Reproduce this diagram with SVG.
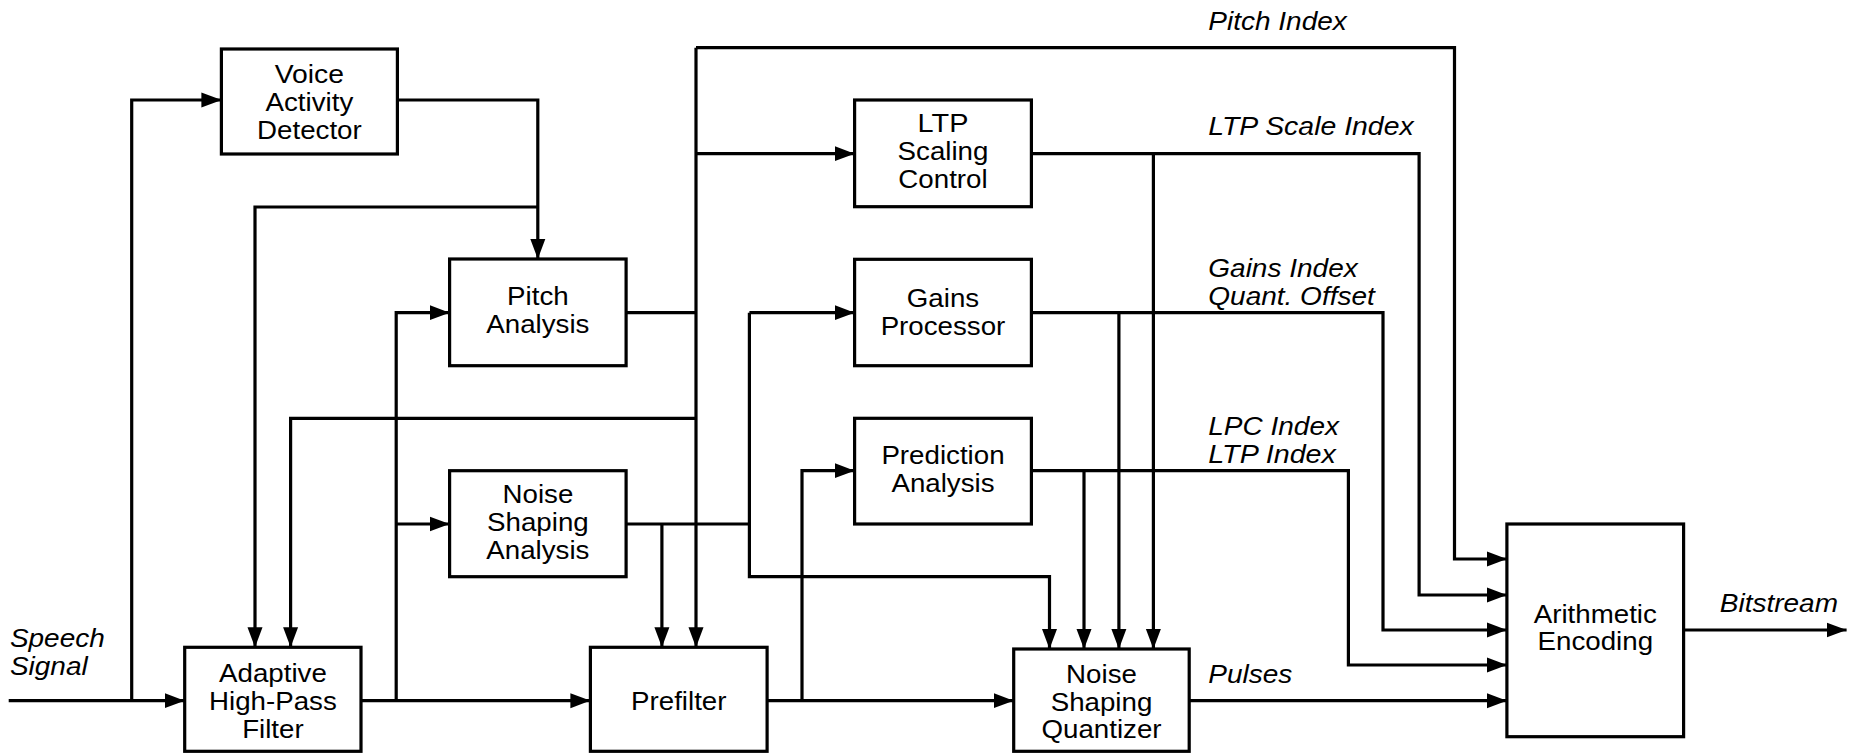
<svg xmlns="http://www.w3.org/2000/svg" width="1852" height="754" viewBox="0 0 1852 754">
<style>
.box{fill:#fff;stroke:#000;stroke-width:3.2}
.nt{font-family:"Liberation Sans",Arial,sans-serif;font-size:25px;text-anchor:middle;fill:#000}
.lb{font-family:"Liberation Sans",Arial,sans-serif;font-size:26px;font-style:italic;fill:#000}
.c{fill:none;stroke:#000;stroke-width:3.2}
.a{marker-end:url(#ah)}
</style>
<defs>
<marker id="ah" markerUnits="userSpaceOnUse" viewBox="0 0 20 16" refX="20" refY="8" markerWidth="20" markerHeight="16" orient="auto">
<path d="M0,0.5 L20,8 L0,15.5 z" fill="#000"/>
</marker>
</defs>
<rect width="1852" height="754" fill="#fff"/>
<g id="vad"><rect class="box" x="221.4" y="49" width="176" height="105"/>
<text class="nt" x="309.4" y="82.7" textLength="69.3" lengthAdjust="spacingAndGlyphs">Voice</text><text class="nt" x="309.4" y="111" textLength="87.7" lengthAdjust="spacingAndGlyphs">Activity</text><text class="nt" x="309.4" y="139.3" textLength="104.7" lengthAdjust="spacingAndGlyphs">Detector</text></g>
<g id="pitch"><rect class="box" x="449.6" y="259" width="176.5" height="106.7"/>
<text class="nt" x="537.9" y="305" textLength="61.6" lengthAdjust="spacingAndGlyphs">Pitch</text><text class="nt" x="537.9" y="333.3" textLength="103.1" lengthAdjust="spacingAndGlyphs">Analysis</text></g>
<g id="ltp"><rect class="box" x="854.6" y="100" width="176.8" height="106.7"/>
<text class="nt" x="943" y="131.7" textLength="50.8" lengthAdjust="spacingAndGlyphs">LTP</text><text class="nt" x="943" y="160.3" textLength="90.8" lengthAdjust="spacingAndGlyphs">Scaling</text><text class="nt" x="943" y="188.3" textLength="89.3" lengthAdjust="spacingAndGlyphs">Control</text></g>
<g id="gains"><rect class="box" x="854.6" y="259.3" width="176.8" height="106.4"/>
<text class="nt" x="943" y="306.7" textLength="72.4" lengthAdjust="spacingAndGlyphs">Gains</text><text class="nt" x="943" y="335" textLength="124.7" lengthAdjust="spacingAndGlyphs">Processor</text></g>
<g id="pred"><rect class="box" x="854.6" y="418.3" width="176.8" height="105.7"/>
<text class="nt" x="943" y="464" textLength="123.2" lengthAdjust="spacingAndGlyphs">Prediction</text><text class="nt" x="943" y="491.7" textLength="103.1" lengthAdjust="spacingAndGlyphs">Analysis</text></g>
<g id="nsa"><rect class="box" x="449.6" y="470.7" width="176.5" height="106"/>
<text class="nt" x="537.9" y="502.7" textLength="70.8" lengthAdjust="spacingAndGlyphs">Noise</text><text class="nt" x="537.9" y="531" textLength="101.6" lengthAdjust="spacingAndGlyphs">Shaping</text><text class="nt" x="537.9" y="559.3" textLength="103.1" lengthAdjust="spacingAndGlyphs">Analysis</text></g>
<g id="hpf"><rect class="box" x="184.7" y="647.3" width="176.3" height="104"/>
<text class="nt" x="272.9" y="681.7" textLength="107.8" lengthAdjust="spacingAndGlyphs">Adaptive</text><text class="nt" x="272.9" y="710" textLength="127.8" lengthAdjust="spacingAndGlyphs">High-Pass</text><text class="nt" x="272.9" y="737.7" textLength="61.5" lengthAdjust="spacingAndGlyphs">Filter</text></g>
<g id="prefilter"><rect class="box" x="590.4" y="647.3" width="176.7" height="104"/>
<text class="nt" x="678.8" y="710" textLength="95.4" lengthAdjust="spacingAndGlyphs">Prefilter</text></g>
<g id="nsq"><rect class="box" x="1013.7" y="649" width="175.5" height="102.3"/>
<text class="nt" x="1101.5" y="683.3" textLength="70.8" lengthAdjust="spacingAndGlyphs">Noise</text><text class="nt" x="1101.5" y="710.7" textLength="101.6" lengthAdjust="spacingAndGlyphs">Shaping</text><text class="nt" x="1101.5" y="738.3" textLength="120.1" lengthAdjust="spacingAndGlyphs">Quantizer</text></g>
<g id="ae"><rect class="box" x="1506.9" y="524" width="176.7" height="212.7"/>
<text class="nt" x="1595.3" y="622.7" textLength="123.1" lengthAdjust="spacingAndGlyphs">Arithmetic</text><text class="nt" x="1595.3" y="650" textLength="115.5" lengthAdjust="spacingAndGlyphs">Encoding</text></g>
<g id="connectors">
<path class="c a" d="M8.7,700.7 H184.7"/>
<path class="c a" d="M131.7,700.7 V100 H221.4"/>
<path class="c a" d="M397.4,100 H537.8 V259"/>
<path class="c a" d="M537.8,207 H255 V647.3"/>
<path class="c a" d="M361,700.7 H590.4"/>
<path class="c a" d="M396.2,700.7 V312.7 H449.6"/>
<path class="c a" d="M396.2,524 H449.6"/>
<path class="c" d="M626.1,312.7 H696"/>
<path class="c a" d="M696,47.7 V647.3"/>
<path class="c a" d="M696,47.7 H1454.5 V559 H1506.9"/>
<path class="c a" d="M696,153.7 H854.6"/>
<path class="c a" d="M696,418.3 H290.6 V647.3"/>
<path class="c" d="M626.1,524 H749.4"/>
<path class="c a" d="M661.9,524 V647.3"/>
<path class="c a" d="M749.4,312.7 H854.6"/>
<path class="c a" d="M749.4,312.7 V576.7 H1049.5 V649"/>
<path class="c a" d="M767.1,700.7 H1013.7"/>
<path class="c a" d="M802,700.7 V470.7 H854.6"/>
<path class="c a" d="M1031.4,153.7 H1419.1 V595 H1506.9"/>
<path class="c a" d="M1153.4,153.7 V649"/>
<path class="c a" d="M1031.4,312.7 H1383 V630 H1506.9"/>
<path class="c a" d="M1118.9,312.7 V649"/>
<path class="c a" d="M1031.4,470.7 H1348.4 V665 H1506.9"/>
<path class="c a" d="M1084,470.7 V649"/>
<path class="c a" d="M1189.2,700.7 H1506.9"/>
<path class="c a" d="M1683.6,630 H1846.6"/>
</g>
<g id="labels">
<text class="lb" x="1208.3" y="30" textLength="138.5" lengthAdjust="spacingAndGlyphs">Pitch Index</text>
<text class="lb" x="1208.3" y="135" textLength="205.4" lengthAdjust="spacingAndGlyphs">LTP Scale Index</text>
<text class="lb" x="1208.3" y="276.7" textLength="149.4" lengthAdjust="spacingAndGlyphs">Gains Index</text>
<text class="lb" x="1208.3" y="305" textLength="166.5" lengthAdjust="spacingAndGlyphs">Quant. Offset</text>
<text class="lb" x="1208.3" y="435" textLength="130.7" lengthAdjust="spacingAndGlyphs">LPC Index</text>
<text class="lb" x="1208.3" y="463.3" textLength="127.6" lengthAdjust="spacingAndGlyphs">LTP Index</text>
<text class="lb" x="1208.3" y="683.3" textLength="84" lengthAdjust="spacingAndGlyphs">Pulses</text>
<text class="lb" x="1719.8" y="611.7" textLength="118.2" lengthAdjust="spacingAndGlyphs">Bitstream</text>
<text class="lb" x="9.9" y="647.3" textLength="94.9" lengthAdjust="spacingAndGlyphs">Speech</text>
<text class="lb" x="9.9" y="675" textLength="77.8" lengthAdjust="spacingAndGlyphs">Signal</text>
</g>
</svg>
